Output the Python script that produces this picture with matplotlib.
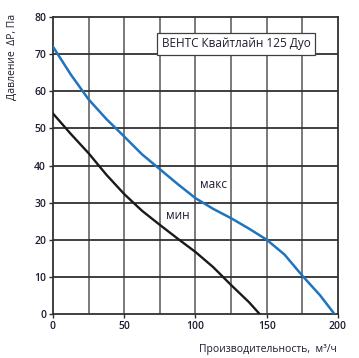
import matplotlib
matplotlib.use("Agg")
import matplotlib.pyplot as plt

max_x = [0, 12.5, 25, 37.5, 50, 62.5, 75, 87.5, 100, 112.5, 125, 137.5, 150, 162.5, 175, 187.5, 197.5]
max_y = [72, 64.5, 57.8, 52.5, 47.8, 43, 39, 35, 31.2, 28.3, 25.8, 23, 20, 16, 10.3, 5, 0]
min_x = [0, 12.5, 25, 37.5, 50, 62.5, 75, 87.5, 100, 112.5, 125, 137.5, 145]
min_y = [54, 48.5, 43.3, 37.5, 32.3, 27.8, 24, 20.3, 16.7, 12.6, 7.8, 3.2, 0]
xticks = [0, 50, 100, 150, 200]
yticks = [0, 10, 20, 30, 40, 50, 60, 70, 80]
vgrid = [25, 50, 75, 100, 125, 150, 175]

plt.rcParams['font.family'] = ['Open Sans', 'DejaVu Sans']
txt = '#1c1c30'

fig = plt.figure(figsize=(3.59, 3.58), dpi=100)
ax = fig.add_axes([0.1476, 0.1229, 0.7939, 0.8296])
ax.set_xlim(0, 200)
ax.set_ylim(0, 80)

for v in vgrid:
    ax.axvline(v, color='#707070', lw=1.3, zorder=1)
for h in yticks[1:-1]:
    ax.axhline(h, color='#303030', lw=1.3, zorder=1)

ax.plot(max_x, max_y, color='#1f74c0', lw=1.8, zorder=3, solid_joinstyle='round')
ax.plot(min_x, min_y, color='#1a1a1a', lw=1.7, zorder=3, solid_joinstyle='round')

for s in ax.spines.values():
    s.set_color('#303030')
    s.set_linewidth(1.3)

ax.set_xticks(xticks)
ax.set_yticks(yticks)
ax.tick_params(direction='out', length=3, width=1, colors='#303030', labelcolor=txt, labelsize=7.5, pad=2)
for lab in ax.get_xticklabels() + ax.get_yticklabels():
    lab.set_fontweight('semibold')

ax.text(103, 35, 'макс', fontsize=8.5, color=txt, ha='left', va='center', zorder=4)
ax.text(79, 26.5, 'мин', fontsize=8.5, color=txt, ha='left', va='center', zorder=4)
ax.text(128.5, 72.8, 'ВЕНТС Квайтлайн 125 Дуо', fontsize=8.5, color=txt, ha='center', va='center', zorder=5,
        bbox=dict(boxstyle='square,pad=0.4', facecolor='white', edgecolor='#404040', lw=0.9))

fig.text(0.035, 0.84, 'Давление  ΔP, Па', rotation=90, fontsize=7.5, color=txt, ha='center', va='center')
fig.text(0.937, 0.025, 'Производительность,  м³/ч', fontsize=7.5, color=txt, ha='right', va='center')

fig.savefig('out.png', dpi=100)
